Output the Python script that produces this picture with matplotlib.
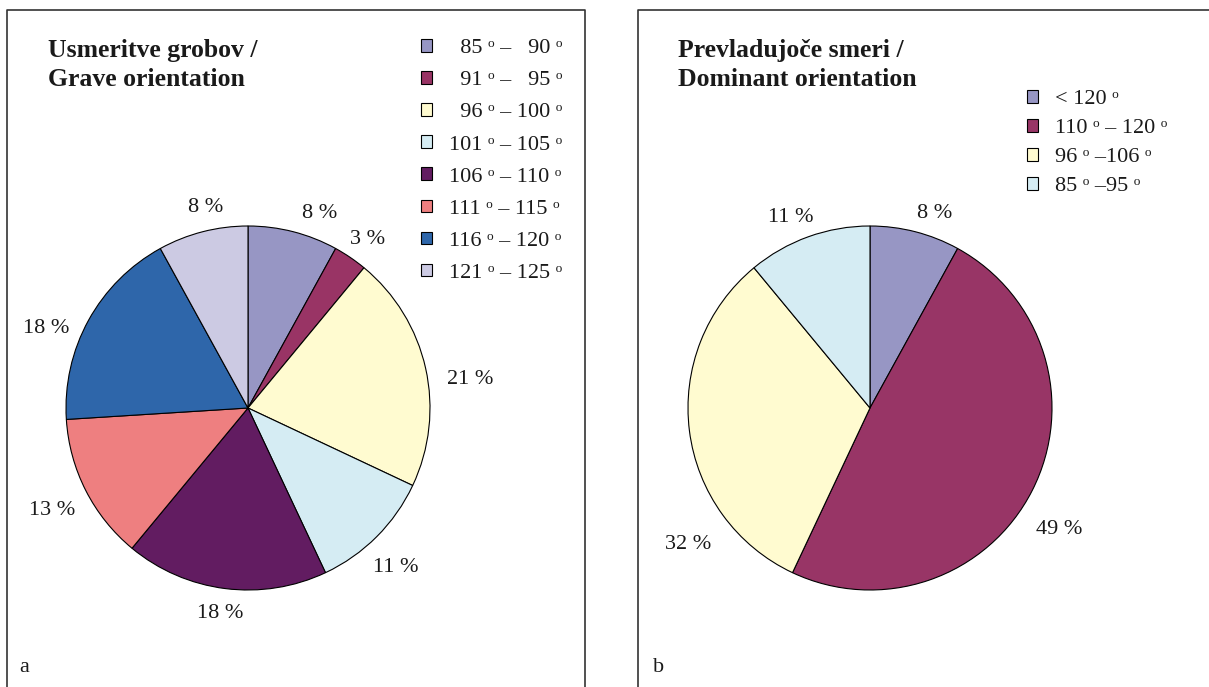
import matplotlib
matplotlib.use("Agg")
import matplotlib.pyplot as plt
import numpy as np
from matplotlib.lines import Line2D

plt.rcParams['font.family'] = ['Liberation Serif', 'DejaVu Serif']

# panel a: grave orientation
a_labels = ["  85 ᵒ –   90 ᵒ", "  91 ᵒ –   95 ᵒ", "  96 ᵒ – 100 ᵒ", "101 ᵒ – 105 ᵒ",
            "106 ᵒ – 110 ᵒ", "111 ᵒ – 115 ᵒ", "116 ᵒ – 120 ᵒ", "121 ᵒ – 125 ᵒ"]
a_values = [8, 3, 21, 11, 18, 13, 18, 8]
a_colors = ["#9796c4", "#993465", "#fffbd0", "#d5ecf3",
            "#621c61", "#ee7f80", "#2e66aa", "#cccae3"]

# panel b: dominant orientation
b_labels = ["< 120 ᵒ", "110 ᵒ – 120 ᵒ", "96 ᵒ –106 ᵒ", "85 ᵒ –95 ᵒ"]
b_values = [8, 49, 32, 11]
b_colors = ["#9796c4", "#983566", "#fffbd0", "#d5ecf3"]

# where the percent labels sit (angle in degrees, distance in radii)
a_lab_ang = [69.7, 54.5, 7.2, -47.1, -97.8, -152.3, 158.6, 101.8]
a_lab_dist = [1.142, 1.134, 1.23, 1.193, 1.137, 1.217, 1.192, 1.128]
b_lab_ang = [71.6, -32.8, -143.2, 112.6]
b_lab_dist = [1.129, 1.236, 1.248, 1.131]

W, H = 1209, 687
R = 182      # pie radius in pixels
HALF = 230   # half size of each pie axes in pixels
fig = plt.figure(figsize=(W / 100, H / 100), dpi=100)


def px(x, y):
    return x / W, 1 - y / H


def draw_pie(cx, cy, values, colors, lab_ang, lab_dist):
    ax = fig.add_axes([(cx - HALF) / W, (H - cy - HALF) / H, 2 * HALF / W, 2 * HALF / H])
    wedges, _ = ax.pie(values, colors=colors, startangle=90, counterclock=False,
                       wedgeprops=dict(edgecolor='black', linewidth=0.8))
    lim = HALF / R
    ax.set_xlim(-lim, lim)
    ax.set_ylim(-lim, lim)
    ax.set_aspect('equal')
    ax.axis('off')
    for v, ang, d in zip(values, lab_ang, lab_dist):
        t = np.deg2rad(ang)
        ax.text(d * np.cos(t), d * np.sin(t), f"{v} %", fontsize=16,
                ha='center', va='center', color='#1a1a1a')
    return wedges


w1 = draw_pie(248, 408, a_values, a_colors, a_lab_ang, a_lab_dist)
w2 = draw_pie(870, 408, b_values, b_colors, b_lab_ang, b_lab_dist)

# panel frames
frame = dict(color='#333333', linewidth=1.2)
fig.add_artist(Line2D([7 / W, 7 / W, 585 / W, 585 / W], [0, 1 - 10 / H, 1 - 10 / H, 0], **frame))
fig.add_artist(Line2D([638 / W, 638 / W, 1], [0, 1 - 10 / H, 1 - 10 / H], **frame))

# titles
for x, title in [(48, "Usmeritve grobov /\nGrave orientation"),
                 (678, "Prevladujoče smeri /\nDominant orientation")]:
    fig.text(*px(x, 65), title, fontsize=18.5, fontweight='bold', va='center',
             ha='left', linespacing=1.36, color='#1a1a1a')

fig.text(*px(19, 668), "a", fontsize=16, va='center', ha='left', color='#1a1a1a')
fig.text(*px(653, 668), "b", fontsize=16, va='center', ha='left', color='#1a1a1a')

leg_kw = dict(frameon=False, fontsize=16, handlelength=0.5, handleheight=0.5,
              handletextpad=0.75, borderpad=0, borderaxespad=0, labelcolor='#1a1a1a')
fig.legend(w1, a_labels, loc='upper left', bbox_to_anchor=px(421, 39),
           labelspacing=0.58, **leg_kw)
fig.legend(w2, b_labels, loc='upper left', bbox_to_anchor=px(1027, 90),
           labelspacing=0.44, **leg_kw)

fig.savefig("out.png", dpi=100)
